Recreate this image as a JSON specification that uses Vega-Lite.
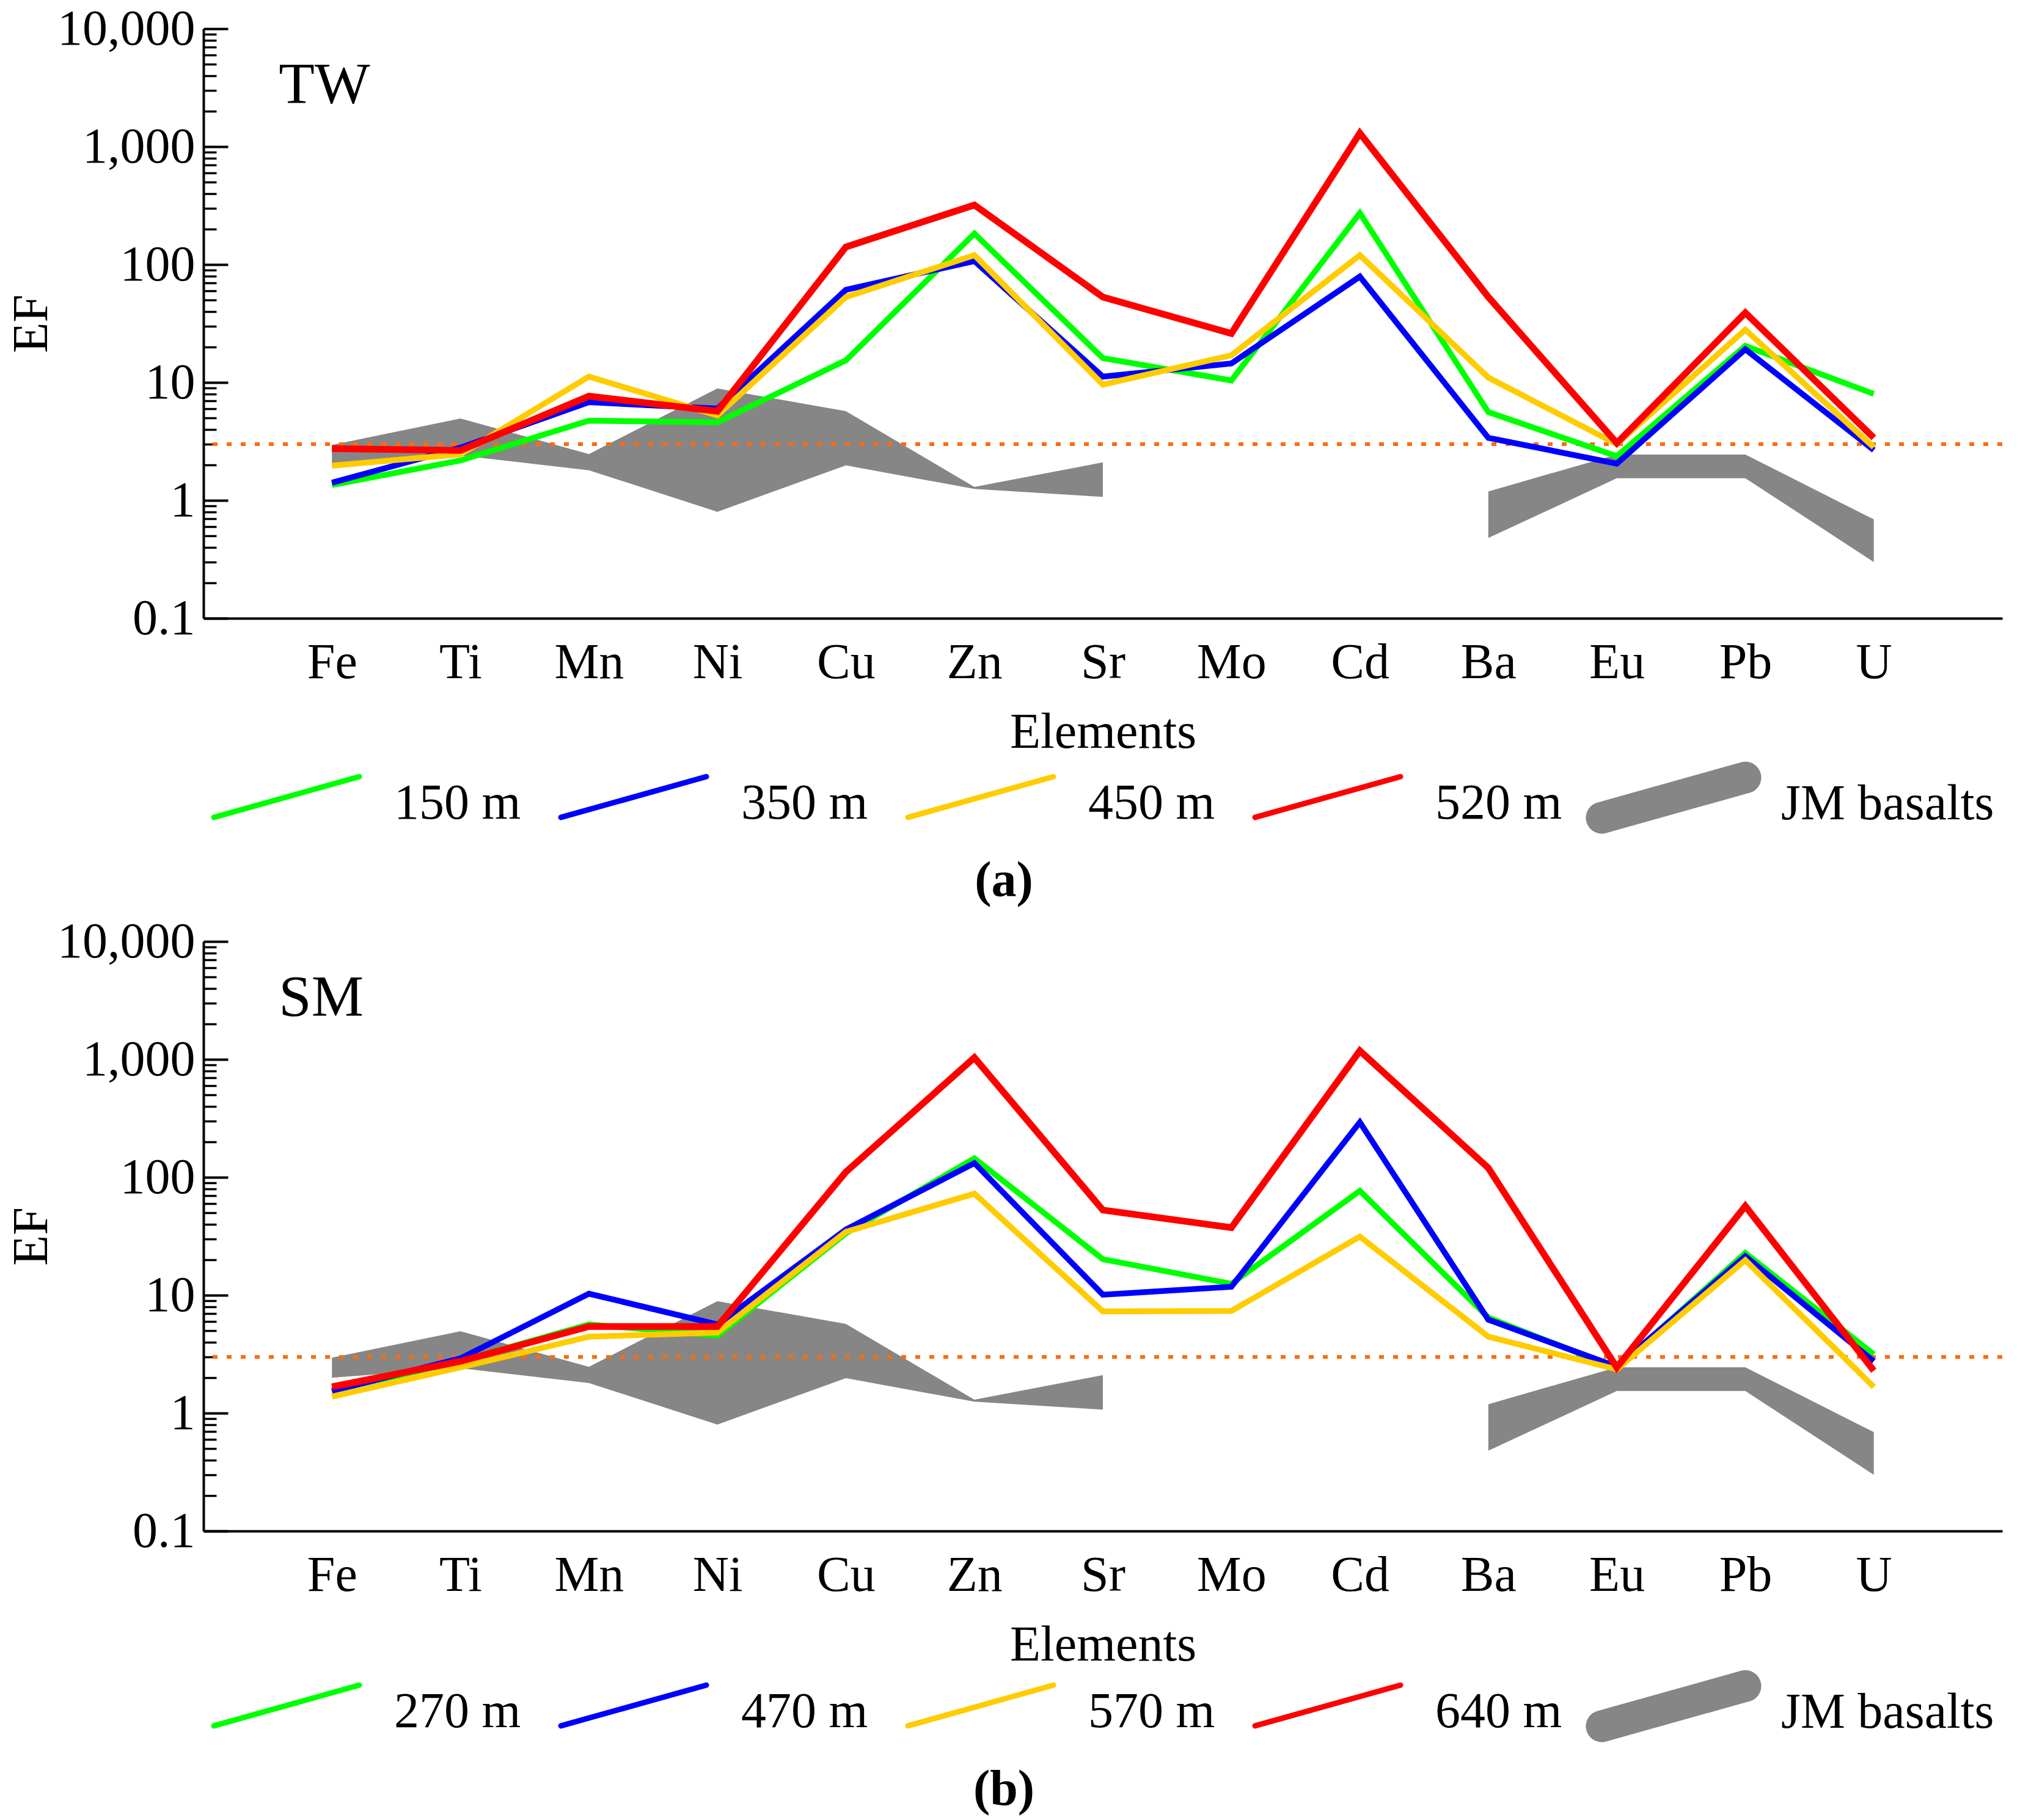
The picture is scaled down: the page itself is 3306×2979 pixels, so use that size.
{
  "$schema": "https://vega.github.io/schema/vega-lite/v6.json",
  "background": "white",
  "padding": {"left": 10, "top": 6, "right": 10, "bottom": 4},
  "config": {
    "font": "Liberation Serif",
    "view": {"stroke": null},
    "axis": {
      "labelFont": "Liberation Serif",
      "labelFontSize": 82,
      "labelColor": "black",
      "labelLimit": 0,
      "titleFont": "Liberation Serif",
      "titleFontSize": 82,
      "titleFontWeight": "normal",
      "titleColor": "black",
      "domainColor": "black",
      "domainWidth": 4,
      "tickColor": "black",
      "grid": false
    },
    "legend": {
      "labelFont": "Liberation Serif",
      "labelFontSize": 82,
      "labelColor": "black",
      "labelLimit": 0
    },
    "title": {"font": "Liberation Serif", "fontSize": 82, "color": "black"}
  },
  "datasets": {
    "basalt": [
      {"element": "Fe", "seg": "a", "lo": 2.0, "hi": 2.95},
      {"element": "Ti", "seg": "a", "lo": 2.4, "hi": 4.95},
      {"element": "Mn", "seg": "a", "lo": 1.8, "hi": 2.47},
      {"element": "Ni", "seg": "a", "lo": 0.8, "hi": 8.9},
      {"element": "Cu", "seg": "a", "lo": 1.98, "hi": 5.7},
      {"element": "Zn", "seg": "a", "lo": 1.25, "hi": 1.3},
      {"element": "Sr", "seg": "a", "lo": 1.07, "hi": 2.1},
      {"element": "Ba", "seg": "b", "lo": 0.48, "hi": 1.19},
      {"element": "Eu", "seg": "b", "lo": 1.54, "hi": 2.45},
      {"element": "Pb", "seg": "b", "lo": 1.54, "hi": 2.45},
      {"element": "U", "seg": "b", "lo": 0.3, "hi": 0.69}
    ],
    "tw": [
      {"element": "Fe", "series": "150 m", "ef": 1.35},
      {"element": "Ti", "series": "150 m", "ef": 2.18},
      {"element": "Mn", "series": "150 m", "ef": 4.74},
      {"element": "Ni", "series": "150 m", "ef": 4.59},
      {"element": "Cu", "series": "150 m", "ef": 15.4},
      {"element": "Zn", "series": "150 m", "ef": 183},
      {"element": "Sr", "series": "150 m", "ef": 16.1},
      {"element": "Mo", "series": "150 m", "ef": 10.4},
      {"element": "Cd", "series": "150 m", "ef": 273},
      {"element": "Ba", "series": "150 m", "ef": 5.6},
      {"element": "Eu", "series": "150 m", "ef": 2.37},
      {"element": "Pb", "series": "150 m", "ef": 20.4},
      {"element": "U", "series": "150 m", "ef": 8.0},
      {"element": "Fe", "series": "350 m", "ef": 1.41},
      {"element": "Ti", "series": "350 m", "ef": 2.8},
      {"element": "Mn", "series": "350 m", "ef": 6.8},
      {"element": "Ni", "series": "350 m", "ef": 6.0},
      {"element": "Cu", "series": "350 m", "ef": 61},
      {"element": "Zn", "series": "350 m", "ef": 107},
      {"element": "Sr", "series": "350 m", "ef": 11.2},
      {"element": "Mo", "series": "350 m", "ef": 14.5},
      {"element": "Cd", "series": "350 m", "ef": 79},
      {"element": "Ba", "series": "350 m", "ef": 3.39},
      {"element": "Eu", "series": "350 m", "ef": 2.05},
      {"element": "Pb", "series": "350 m", "ef": 19.1},
      {"element": "U", "series": "350 m", "ef": 2.67},
      {"element": "Fe", "series": "450 m", "ef": 1.97},
      {"element": "Ti", "series": "450 m", "ef": 2.46},
      {"element": "Mn", "series": "450 m", "ef": 11.2},
      {"element": "Ni", "series": "450 m", "ef": 5.26},
      {"element": "Cu", "series": "450 m", "ef": 53},
      {"element": "Zn", "series": "450 m", "ef": 120},
      {"element": "Sr", "series": "450 m", "ef": 9.6},
      {"element": "Mo", "series": "450 m", "ef": 17.0},
      {"element": "Cd", "series": "450 m", "ef": 120},
      {"element": "Ba", "series": "450 m", "ef": 11},
      {"element": "Eu", "series": "450 m", "ef": 3.0},
      {"element": "Pb", "series": "450 m", "ef": 28},
      {"element": "U", "series": "450 m", "ef": 2.82},
      {"element": "Fe", "series": "520 m", "ef": 2.75},
      {"element": "Ti", "series": "520 m", "ef": 2.65},
      {"element": "Mn", "series": "520 m", "ef": 7.65},
      {"element": "Ni", "series": "520 m", "ef": 5.7},
      {"element": "Cu", "series": "520 m", "ef": 141},
      {"element": "Zn", "series": "520 m", "ef": 320},
      {"element": "Sr", "series": "520 m", "ef": 53},
      {"element": "Mo", "series": "520 m", "ef": 26},
      {"element": "Cd", "series": "520 m", "ef": 1300},
      {"element": "Ba", "series": "520 m", "ef": 53},
      {"element": "Eu", "series": "520 m", "ef": 3.06},
      {"element": "Pb", "series": "520 m", "ef": 39},
      {"element": "U", "series": "520 m", "ef": 3.39}
    ],
    "sm": [
      {"element": "Fe", "series": "270 m", "ef": 1.55},
      {"element": "Ti", "series": "270 m", "ef": 2.75},
      {"element": "Mn", "series": "270 m", "ef": 5.65},
      {"element": "Ni", "series": "270 m", "ef": 4.55},
      {"element": "Cu", "series": "270 m", "ef": 33.5},
      {"element": "Zn", "series": "270 m", "ef": 145},
      {"element": "Sr", "series": "270 m", "ef": 20.2},
      {"element": "Mo", "series": "270 m", "ef": 12.5},
      {"element": "Cd", "series": "270 m", "ef": 76.7},
      {"element": "Ba", "series": "270 m", "ef": 6.46},
      {"element": "Eu", "series": "270 m", "ef": 2.4},
      {"element": "Pb", "series": "270 m", "ef": 22.8},
      {"element": "U", "series": "270 m", "ef": 3.15},
      {"element": "Fe", "series": "470 m", "ef": 1.54},
      {"element": "Ti", "series": "470 m", "ef": 2.91},
      {"element": "Mn", "series": "470 m", "ef": 10.3},
      {"element": "Ni", "series": "470 m", "ef": 5.65},
      {"element": "Cu", "series": "470 m", "ef": 36},
      {"element": "Zn", "series": "470 m", "ef": 132},
      {"element": "Sr", "series": "470 m", "ef": 10.1},
      {"element": "Mo", "series": "470 m", "ef": 11.8},
      {"element": "Cd", "series": "470 m", "ef": 293},
      {"element": "Ba", "series": "470 m", "ef": 6.2},
      {"element": "Eu", "series": "470 m", "ef": 2.48},
      {"element": "Pb", "series": "470 m", "ef": 21.4},
      {"element": "U", "series": "470 m", "ef": 2.75},
      {"element": "Fe", "series": "570 m", "ef": 1.38},
      {"element": "Ti", "series": "570 m", "ef": 2.44},
      {"element": "Mn", "series": "570 m", "ef": 4.45},
      {"element": "Ni", "series": "570 m", "ef": 4.82},
      {"element": "Cu", "series": "570 m", "ef": 34.5},
      {"element": "Zn", "series": "570 m", "ef": 72.6},
      {"element": "Sr", "series": "570 m", "ef": 7.3},
      {"element": "Mo", "series": "570 m", "ef": 7.35},
      {"element": "Cd", "series": "570 m", "ef": 31.4},
      {"element": "Ba", "series": "570 m", "ef": 4.45},
      {"element": "Eu", "series": "570 m", "ef": 2.35},
      {"element": "Pb", "series": "570 m", "ef": 19.8},
      {"element": "U", "series": "570 m", "ef": 1.67},
      {"element": "Fe", "series": "640 m", "ef": 1.67},
      {"element": "Ti", "series": "640 m", "ef": 2.75},
      {"element": "Mn", "series": "640 m", "ef": 5.43},
      {"element": "Ni", "series": "640 m", "ef": 5.43},
      {"element": "Cu", "series": "640 m", "ef": 111},
      {"element": "Zn", "series": "640 m", "ef": 1035},
      {"element": "Sr", "series": "640 m", "ef": 52.7},
      {"element": "Mo", "series": "640 m", "ef": 37.4},
      {"element": "Cd", "series": "640 m", "ef": 1183},
      {"element": "Ba", "series": "640 m", "ef": 120},
      {"element": "Eu", "series": "640 m", "ef": 2.44},
      {"element": "Pb", "series": "640 m", "ef": 57},
      {"element": "U", "series": "640 m", "ef": 2.29}
    ]
  },
  "spacing": 17,
  "resolve": {"scale": {"color": "independent"}, "legend": {"color": "independent"}},
  "vconcat": [
    {
      "width": 2944,
      "height": 965,
      "title": {"text": "(a)", "orient": "bottom", "anchor": "middle", "frame": "group", "fontWeight": "bold", "offset": -3, "dx": -162},
      "resolve": {"axis": {"y": "independent"}},
      "layer": [
        {
          "data": {"name": "basalt"},
          "mark": {"type": "area", "color": "#868686", "opacity": 1},
          "encoding": {
            "x": {"field": "element", "type": "ordinal",
              "scale": {"type": "point", "padding": 1, "domain": ["Fe", "Ti", "Mn", "Ni", "Cu", "Zn", "Sr", "Mo", "Cd", "Ba", "Eu", "Pb", "U"]},
              "axis": {"title": "Elements", "labelAngle": 0, "ticks": false, "tickSize": 0, "labelPadding": 32, "titlePadding": 33}},
            "y": {"field": "lo", "type": "quantitative",
              "scale": {"type": "log", "domain": [0.1, 10000], "nice": false},
              "axis": {"orient": "left", "title": null, "labels": false, "domain": false, "tickSize": -21, "tickWidth": 3.5,
                "values": [0.2, 0.3, 0.4, 0.5, 0.6, 0.7, 0.8, 0.9, 2, 3, 4, 5, 6, 7, 8, 9, 20, 30, 40, 50, 60, 70, 80, 90, 200, 300, 400, 500, 600, 700, 800, 900, 2000, 3000, 4000, 5000, 6000, 7000, 8000, 9000]}},
            "y2": {"field": "hi"},
            "detail": {"field": "seg"}
          }
        },
        {
          "data": {"values": [{}]},
          "mark": {"type": "rule", "color": "#FF6A10", "strokeWidth": 6, "strokeDash": [8, 15]},
          "encoding": {"y": {"datum": 3, "type": "quantitative", "axis": null}}
        },
        {
          "data": {"name": "tw"},
          "mark": {"type": "line", "strokeJoin": "miter"},
          "encoding": {
            "x": {"field": "element", "type": "ordinal",
              "scale": {"type": "point", "padding": 1, "domain": ["Fe", "Ti", "Mn", "Ni", "Cu", "Zn", "Sr", "Mo", "Cd", "Ba", "Eu", "Pb", "U"]},
              "axis": {"title": "Elements", "labelAngle": 0, "ticks": false, "tickSize": 0, "labelPadding": 32, "titlePadding": 33}},
            "y": {"field": "ef", "type": "quantitative",
              "scale": {"type": "log", "domain": [0.1, 10000], "nice": false},
              "axis": {"orient": "left", "title": "EF", "titlePadding": 40, "format": ",", "tickSize": -40, "tickWidth": 4, "labelPadding": 54,
                "values": [0.1, 1, 10, 100, 1000, 10000]}},
            "strokeWidth": {"condition": {"test": "datum.series === '520 m'", "value": 11}, "value": 9.5},
            "color": {"field": "series", "type": "nominal",
              "scale": {"domain": ["150 m", "350 m", "450 m", "520 m", "JM basalts"], "range": ["#00FF00", "#0000FF", "#FFCC00", "#FF0000", "#868686"]},
              "legend": {"title": null, "orient": "none", "legendX": 95, "legendY": 1227, "direction": "horizontal",
                "symbolType": "M -1.3 0.6 M 1.3 -0.6 M -1.3 -0.6 M 1.3 0.6 M -1 0.19 L 1 -0.37", "symbolSize": 56644, "symbolStrokeWidth": 9,
                "labelOffset": 135, "columnPadding": 11,
                "encode": {"symbols": {"update": {
                  "shape": {"signal": "datum.value === 'JM basalts' ? 'M -1.434 0.734 M 1.434 -0.734 M -1.434 -0.734 M 1.434 0.734 M -0.941 0.4 L 1.059 -0.16 A 0.2185 0.2185 0 0 0 0.941 -0.58 L -1.059 -0.02 A 0.2185 0.2185 0 0 0 -0.941 0.4 Z' : 'M -1.3 0.6 M 1.3 -0.6 M -1.3 -0.6 M 1.3 0.6 M -1 0.19 L 1 -0.37'"},
                  "strokeWidth": {"signal": "datum.value === 'JM basalts' ? 0 : 9"},
                  "strokeCap": {"value": "round"},
                  "fill": {"signal": "datum.value === 'JM basalts' ? '#868686' : 'transparent'"}}}}}}
          }
        },
        {
          "data": {"values": [{}]},
          "mark": {"type": "text", "text": "TW", "fontSize": 96, "align": "left", "baseline": "middle", "dx": -87},
          "encoding": {
            "x": {"datum": "Fe", "type": "ordinal",
              "scale": {"type": "point", "padding": 1, "domain": ["Fe", "Ti", "Mn", "Ni", "Cu", "Zn", "Sr", "Mo", "Cd", "Ba", "Eu", "Pb", "U"]},
              "axis": {"title": "Elements", "labelAngle": 0, "ticks": false, "tickSize": 0, "labelPadding": 32, "titlePadding": 33}},
            "y": {"datum": 3300, "type": "quantitative", "axis": null}
          }
        }
      ]
    },
    {
      "width": 2944,
      "height": 965,
      "title": {"text": "(b)", "orient": "bottom", "anchor": "middle", "frame": "group", "fontWeight": "bold", "offset": -3, "dx": -162},
      "resolve": {"axis": {"y": "independent"}},
      "layer": [
        {
          "data": {"name": "basalt"},
          "mark": {"type": "area", "color": "#868686", "opacity": 1},
          "encoding": {
            "x": {"field": "element", "type": "ordinal",
              "scale": {"type": "point", "padding": 1, "domain": ["Fe", "Ti", "Mn", "Ni", "Cu", "Zn", "Sr", "Mo", "Cd", "Ba", "Eu", "Pb", "U"]},
              "axis": {"title": "Elements", "labelAngle": 0, "ticks": false, "tickSize": 0, "labelPadding": 32, "titlePadding": 33}},
            "y": {"field": "lo", "type": "quantitative",
              "scale": {"type": "log", "domain": [0.1, 10000], "nice": false},
              "axis": {"orient": "left", "title": null, "labels": false, "domain": false, "tickSize": -21, "tickWidth": 3.5,
                "values": [0.2, 0.3, 0.4, 0.5, 0.6, 0.7, 0.8, 0.9, 2, 3, 4, 5, 6, 7, 8, 9, 20, 30, 40, 50, 60, 70, 80, 90, 200, 300, 400, 500, 600, 700, 800, 900, 2000, 3000, 4000, 5000, 6000, 7000, 8000, 9000]}},
            "y2": {"field": "hi"},
            "detail": {"field": "seg"}
          }
        },
        {
          "data": {"values": [{}]},
          "mark": {"type": "rule", "color": "#FF6A10", "strokeWidth": 6, "strokeDash": [8, 15]},
          "encoding": {"y": {"datum": 3, "type": "quantitative", "axis": null}}
        },
        {
          "data": {"name": "sm"},
          "mark": {"type": "line", "strokeJoin": "miter"},
          "encoding": {
            "x": {"field": "element", "type": "ordinal",
              "scale": {"type": "point", "padding": 1, "domain": ["Fe", "Ti", "Mn", "Ni", "Cu", "Zn", "Sr", "Mo", "Cd", "Ba", "Eu", "Pb", "U"]},
              "axis": {"title": "Elements", "labelAngle": 0, "ticks": false, "tickSize": 0, "labelPadding": 32, "titlePadding": 33}},
            "y": {"field": "ef", "type": "quantitative",
              "scale": {"type": "log", "domain": [0.1, 10000], "nice": false},
              "axis": {"orient": "left", "title": "EF", "titlePadding": 40, "format": ",", "tickSize": -40, "tickWidth": 4, "labelPadding": 54,
                "values": [0.1, 1, 10, 100, 1000, 10000]}},
            "strokeWidth": {"condition": {"test": "datum.series === '640 m'", "value": 11}, "value": 9.5},
            "color": {"field": "series", "type": "nominal",
              "scale": {"domain": ["270 m", "470 m", "570 m", "640 m", "JM basalts"], "range": ["#00FF00", "#0000FF", "#FFCC00", "#FF0000", "#868686"]},
              "legend": {"title": null, "orient": "none", "legendX": 95, "legendY": 1220, "direction": "horizontal",
                "symbolType": "M -1.3 0.6 M 1.3 -0.6 M -1.3 -0.6 M 1.3 0.6 M -1 0.19 L 1 -0.37", "symbolSize": 56644, "symbolStrokeWidth": 9,
                "labelOffset": 135, "columnPadding": 11,
                "encode": {"symbols": {"update": {
                  "shape": {"signal": "datum.value === 'JM basalts' ? 'M -1.434 0.734 M 1.434 -0.734 M -1.434 -0.734 M 1.434 0.734 M -0.941 0.4 L 1.059 -0.16 A 0.2185 0.2185 0 0 0 0.941 -0.58 L -1.059 -0.02 A 0.2185 0.2185 0 0 0 -0.941 0.4 Z' : 'M -1.3 0.6 M 1.3 -0.6 M -1.3 -0.6 M 1.3 0.6 M -1 0.19 L 1 -0.37'"},
                  "strokeWidth": {"signal": "datum.value === 'JM basalts' ? 0 : 9"},
                  "strokeCap": {"value": "round"},
                  "fill": {"signal": "datum.value === 'JM basalts' ? '#868686' : 'transparent'"}}}}}}
          }
        },
        {
          "data": {"values": [{}]},
          "mark": {"type": "text", "text": "SM", "fontSize": 96, "align": "left", "baseline": "middle", "dx": -87},
          "encoding": {
            "x": {"datum": "Fe", "type": "ordinal",
              "scale": {"type": "point", "padding": 1, "domain": ["Fe", "Ti", "Mn", "Ni", "Cu", "Zn", "Sr", "Mo", "Cd", "Ba", "Eu", "Pb", "U"]},
              "axis": {"title": "Elements", "labelAngle": 0, "ticks": false, "tickSize": 0, "labelPadding": 32, "titlePadding": 33}},
            "y": {"datum": 3300, "type": "quantitative", "axis": null}
          }
        }
      ]
    }
  ]
}
